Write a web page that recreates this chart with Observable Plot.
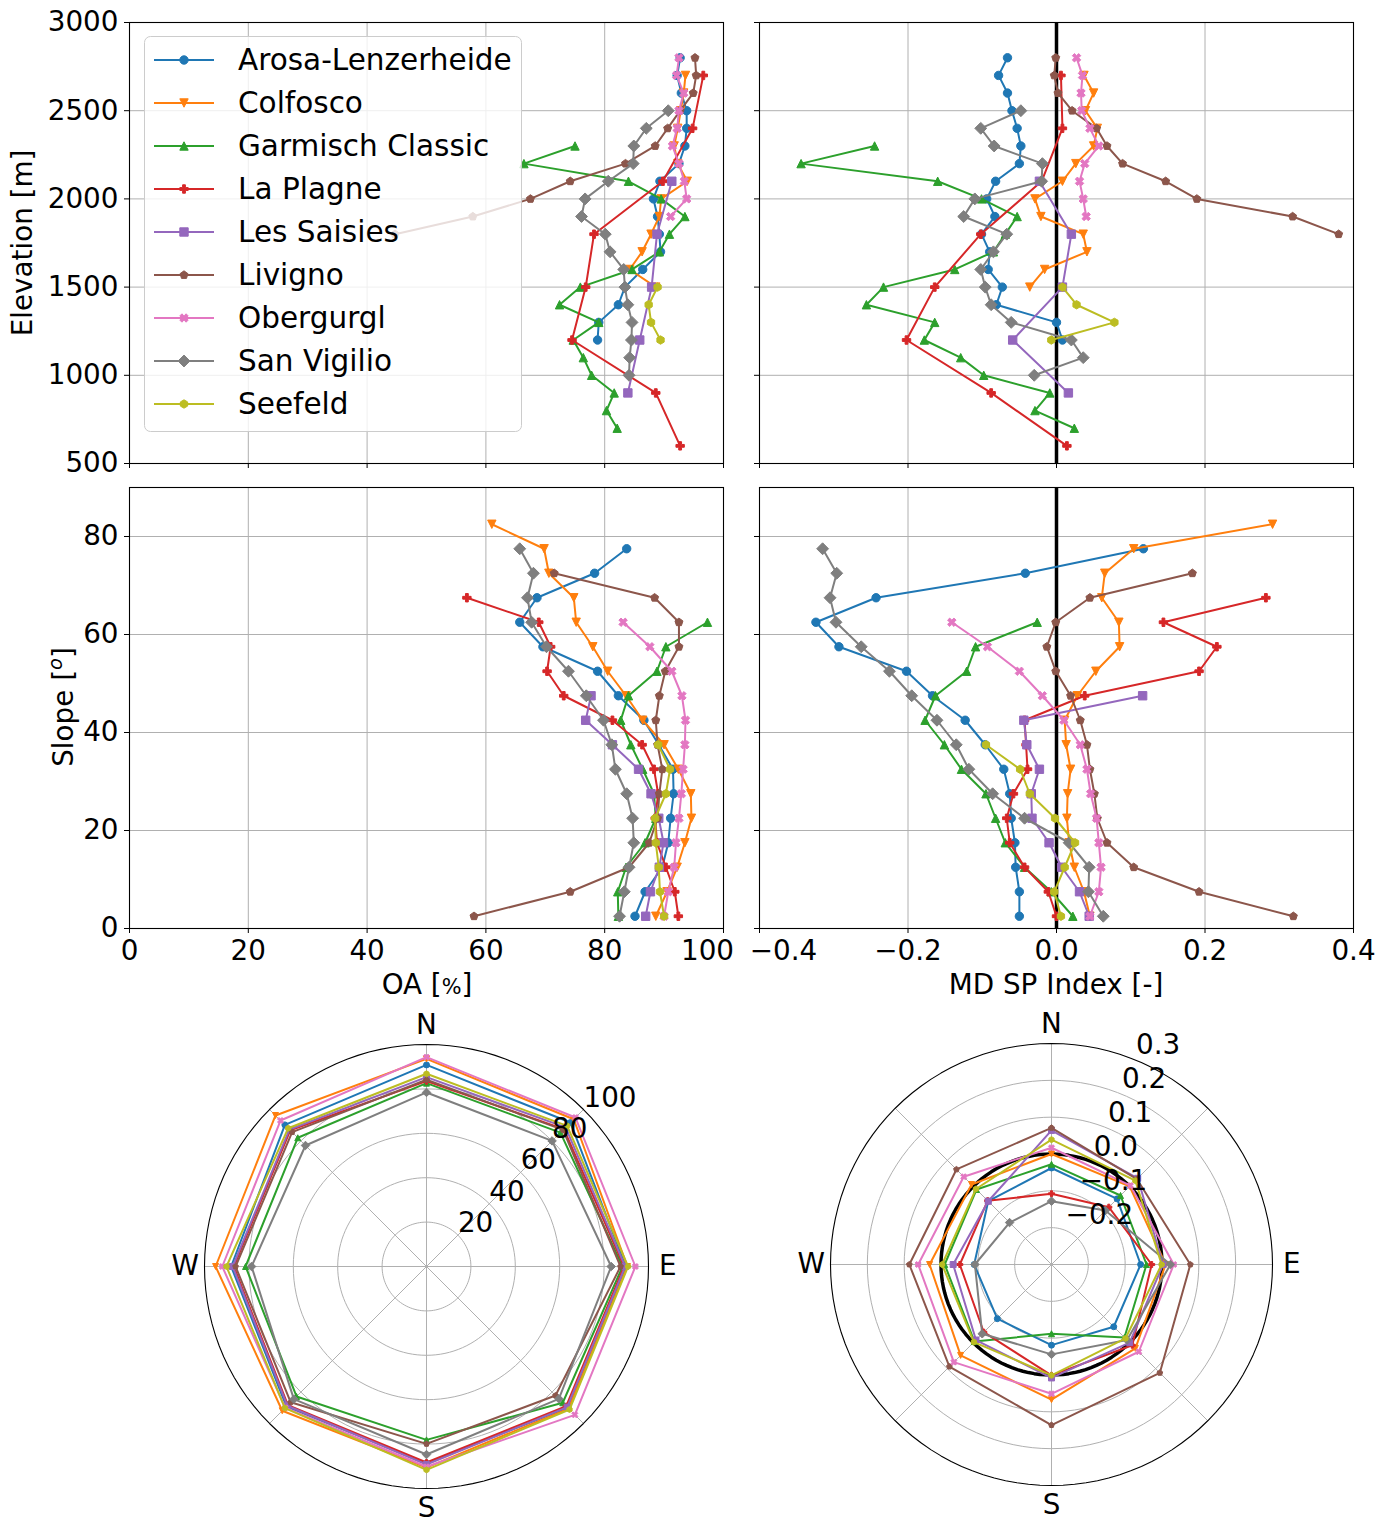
<!DOCTYPE html>
<html>
<head>
<meta charset="utf-8">
<script src="https://cdn.jsdelivr.net/npm/d3@7"></script>
<script src="https://cdn.jsdelivr.net/npm/@observablehq/plot@0.6"></script>
<style>
  body { margin: 0; background: #fff; overflow: hidden; font-family: "DejaVu Sans", sans-serif; }
  #fig { position: relative; width: 1388px; height: 1528px; }
  .ttl { position: absolute; font-size: 27.8px; line-height: 1; white-space: nowrap; color: #000; transform: translate(-50%, -50%); }
  .rot { transform: translate(-50%, -50%) rotate(-90deg); }
</style>
</head>
<body>
<div id="fig"></div>
<script>
// ---- data ----
const sites = ["Arosa-Lenzerheide", "Colfosco", "Garmisch Classic", "La Plagne", "Les Saisies",
               "Livigno", "Obergurgl", "San Vigilio", "Seefeld"];

// elevation bins sampled by each site [m]
const elevLevels = [
  [2800, 2700, 2600, 2500, 2400, 2300, 2200, 2100, 2000, 1900, 1800, 1700, 1600, 1500, 1400, 1300, 1200],
  [2700, 2600, 2500, 2400, 2300, 2200, 2100, 2000, 1900, 1800, 1700, 1600, 1500],
  [2300, 2200, 2100, 2000, 1900, 1800, 1700, 1600, 1500, 1400, 1300, 1200, 1100, 1000, 900, 800, 700],
  [2700, 2400, 2100, 1800, 1500, 1200, 900, 600],
  [2100, 1800, 1500, 1200, 900],
  [2800, 2700, 2600, 2500, 2400, 2300, 2200, 2100, 2000, 1900, 1800],
  [2800, 2700, 2600, 2500, 2400, 2300, 2200, 2100, 2000, 1900],
  [2500, 2400, 2300, 2200, 2100, 2000, 1900, 1800, 1700, 1600, 1500, 1400, 1300, 1200, 1100, 1000],
  [1500, 1400, 1300, 1200]
];
const oaByElev = [
  [92.7, 92.2, 92.9, 93.8, 93.8, 93.5, 92.5, 89.3, 88.2, 88.9, 89.2, 89.4, 86.4, 83.4, 82.3, 79.0, 78.8],
  [93.6, 93.3, 92.8, 92.3, 91.7, 92.3, 93.9, 89.5, 89.2, 87.8, 86.3, 84.2, 88.6],
  [75.0, 66.4, 84.0, 89.5, 93.5, 90.9, 89.2, 84.6, 75.9, 72.4, 79.0, 74.7, 76.4, 77.8, 81.6, 80.3, 82.1],
  [96.6, 94.8, 89.8, 78.2, 76.8, 74.5, 88.6, 92.7],
  [91.3, 88.8, 87.9, 85.9, 83.9],
  [95.2, 95.4, 94.9, 92.7, 90.6, 88.5, 83.5, 74.2, 67.5, 57.8, 44.7],
  [92.5, 92.1, 93.3, 92.5, 92.2, 91.4, 92.5, 93.4, 93.8, 91.1],
  [90.7, 87.0, 84.9, 84.8, 80.6, 76.7, 76.1, 80.1, 80.9, 83.2, 83.4, 83.9, 84.6, 84.5, 84.2, 84.1],
  [88.9, 87.4, 87.8, 89.4]
];
const mdByElev = [
  [-0.066, -0.078, -0.066, -0.060, -0.053, -0.048, -0.050, -0.082, -0.094, -0.083, -0.101, -0.090, -0.092, -0.073, -0.081, 0.000, 0.008],
  [0.037, 0.050, 0.039, 0.055, 0.050, 0.026, 0.008, -0.029, -0.021, 0.036, 0.041, -0.016, -0.036],
  [-0.245, -0.344, -0.160, -0.101, -0.053, -0.069, -0.085, -0.137, -0.233, -0.256, -0.164, -0.178, -0.129, -0.098, -0.009, -0.029, 0.024],
  [0.006, 0.008, -0.020, -0.102, -0.164, -0.202, -0.088, 0.014],
  [-0.023, 0.020, 0.008, -0.059, 0.016],
  [-0.001, -0.003, 0.002, 0.021, 0.054, 0.068, 0.089, 0.147, 0.189, 0.318, 0.380],
  [0.027, 0.035, 0.033, 0.034, 0.045, 0.057, 0.038, 0.031, 0.036, 0.040],
  [-0.048, -0.102, -0.084, -0.019, -0.020, -0.110, -0.125, -0.067, -0.085, -0.102, -0.096, -0.088, -0.061, 0.020, 0.036, -0.030],
  [0.008, 0.027, 0.078, -0.007]
];

// slope bins sampled by each site [deg]
const slopeLevels = [
  [77.5, 72.5, 67.5, 62.5, 57.5, 52.5, 47.5, 42.5, 37.5, 32.5, 27.5, 22.5, 17.5, 12.5, 7.5, 2.5],
  [82.5, 77.5, 72.5, 67.5, 62.5, 57.5, 52.5, 47.5, 42.5, 37.5, 32.5, 27.5, 22.5, 17.5, 12.5, 7.5, 2.5],
  [62.5, 57.5, 52.5, 47.5, 42.5, 37.5, 32.5, 27.5, 22.5, 17.5, 12.5, 7.5, 2.5],
  [67.5, 62.5, 57.5, 52.5, 47.5, 42.5, 37.5, 32.5, 27.5, 22.5, 17.5, 12.5, 7.5, 2.5],
  [47.5, 42.5, 37.5, 32.5, 27.5, 22.5, 17.5, 12.5, 7.5, 2.5],
  [72.5, 67.5, 62.5, 57.5, 52.5, 47.5, 42.5, 37.5, 32.5, 27.5, 22.5, 17.5, 12.5, 7.5, 2.5],
  [62.5, 57.5, 52.5, 47.5, 42.5, 37.5, 32.5, 27.5, 22.5, 17.5, 12.5, 7.5, 2.5],
  [77.5, 72.5, 67.5, 62.5, 57.5, 52.5, 47.5, 42.5, 37.5, 32.5, 27.5, 22.5, 17.5, 12.5, 7.5, 2.5],
  [37.5, 32.5, 27.5, 22.5, 17.5, 12.5, 7.5, 2.5]
];
const oaBySlope = [
  [83.7, 78.3, 68.6, 65.7, 69.6, 78.8, 82.3, 86.6, 89.1, 91.5, 91.6, 91.1, 90.7, 89.7, 86.8, 85.1],
  [61.0, 69.8, 70.6, 74.8, 75.2, 78.0, 80.5, 83.6, 86.4, 90.0, 92.4, 94.5, 94.6, 93.5, 92.2, 90.5, 88.6],
  [97.3, 90.3, 88.8, 84.0, 82.7, 84.4, 86.4, 88.3, 88.6, 86.8, 83.6, 82.2, 82.3],
  [56.8, 68.9, 70.9, 70.3, 73.1, 81.3, 86.3, 88.3, 89.0, 88.5, 88.8, 90.3, 91.8, 92.4],
  [77.7, 76.8, 81.3, 85.7, 87.8, 89.1, 89.9, 89.2, 87.7, 86.9],
  [71.5, 88.4, 92.5, 92.5, 90.2, 89.2, 88.6, 88.9, 89.7, 89.2, 88.9, 87.5, 84.1, 74.2, 58.0],
  [83.1, 87.6, 91.3, 93.0, 93.6, 93.5, 93.2, 92.9, 92.5, 92.0, 91.7, 90.7, 90.0],
  [65.7, 68.0, 67.0, 67.7, 70.2, 73.9, 76.9, 79.8, 81.2, 81.8, 83.7, 84.7, 84.9, 84.1, 83.3, 82.5],
  [89.0, 91.0, 90.3, 88.5, 88.6, 89.1, 89.3, 90.0]
];
const mdBySlope = [
  [0.117, -0.042, -0.243, -0.324, -0.293, -0.202, -0.167, -0.123, -0.096, -0.071, -0.063, -0.061, -0.056, -0.055, -0.050, -0.050],
  [0.291, 0.104, 0.065, 0.061, 0.084, 0.085, 0.053, 0.028, 0.011, 0.013, 0.019, 0.015, 0.014, 0.017, 0.024, 0.037, 0.045],
  [-0.026, -0.109, -0.121, -0.163, -0.177, -0.151, -0.128, -0.095, -0.082, -0.069, -0.043, -0.007, 0.022],
  [0.282, 0.144, 0.216, 0.192, 0.038, -0.043, -0.041, -0.039, -0.058, -0.067, -0.063, -0.043, -0.011, 0.000],
  [0.116, -0.044, -0.040, -0.023, -0.034, -0.033, -0.010, 0.007, 0.031, 0.044],
  [0.183, 0.045, -0.001, -0.013, -0.001, 0.019, 0.032, 0.041, 0.045, 0.051, 0.055, 0.068, 0.104, 0.192, 0.319],
  [-0.141, -0.093, -0.050, -0.019, 0.010, 0.032, 0.041, 0.046, 0.054, 0.057, 0.060, 0.057, 0.045],
  [-0.315, -0.296, -0.305, -0.297, -0.263, -0.225, -0.195, -0.161, -0.135, -0.118, -0.086, -0.043, 0.017, 0.044, 0.043, 0.063],
  [-0.095, -0.049, -0.036, -0.002, 0.025, 0.011, -0.003, 0.006]
];

// aspect: N, NE, E, SE, S, SW, W, NW
const aspectDeg = [0, 45, 90, 135, 180, 225, 270, 315];
const oaByAspect = [
  [90.8, 91.7, 89.8, 90.0, 88.6, 89.2, 88.0, 90.2],
  [93.5, 93.8, 90.5, 90.5, 90.6, 91.9, 95.0, 96.2],
  [82.6, 85.3, 88.3, 86.8, 78.1, 82.8, 81.5, 82.0],
  [83.5, 87.5, 89.0, 89.0, 88.3, 88.3, 86.8, 86.8],
  [85.3, 88.6, 89.5, 89.6, 89.2, 88.7, 87.3, 87.3],
  [84.1, 87.0, 87.4, 82.2, 79.9, 86.5, 86.0, 85.6],
  [94.3, 94.9, 94.1, 94.5, 90.2, 90.0, 92.0, 93.0],
  [78.4, 80.0, 83.2, 84.3, 84.7, 84.5, 78.8, 77.1],
  [86.8, 89.6, 90.8, 91.1, 91.6, 90.2, 90.1, 88.1]
];
const mdByAspect = [
  [-0.038, -0.048, -0.058, -0.061, -0.081, -0.092, -0.090, -0.057],
  [0.000, 0.000, 0.010, 0.022, 0.067, 0.049, 0.031, 0.007],
  [-0.028, -0.035, -0.042, -0.020, -0.112, -0.004, -0.010, -0.012],
  [-0.108, -0.080, -0.028, 0.010, 0.001, -0.040, -0.051, -0.055],
  [0.064, 0.031, 0.003, 0.000, 0.008, -0.010, -0.033, -0.057],
  [0.071, 0.028, 0.077, 0.116, 0.136, 0.092, 0.086, 0.065],
  [0.017, 0.003, 0.032, 0.035, 0.051, 0.075, 0.062, 0.037],
  [-0.128, -0.093, 0.023, -0.010, -0.056, -0.034, -0.092, -0.139],
  [0.039, 0.022, -0.001, -0.016, 0.001, -0.002, -0.003, -0.010]
];

const elevTicks = [500, 1000, 1500, 2000, 2500, 3000];
const slopeTicks = [0, 20, 40, 60, 80];
const oaTicks = [0, 20, 40, 60, 80, 100];
const mdTicks = [-0.4, -0.2, 0.0, 0.2, 0.4];

// ---- styles ----
const colors = ["#1f77b4", "#ff7f0e", "#2ca02c", "#d62728", "#9467bd", "#8c564b", "#e377c2", "#7f7f7f", "#bcbd22"];
const GRID = "#b0b0b0";
const FONT = {fontFamily: "DejaVu Sans", fontSize: "27.8px", color: "black", overflow: "visible", background: "transparent"};

// matplotlib-like markers (unit = half marker size)
function polygon(pts) {
  return {draw(ctx, size) {
    const s = Math.sqrt(size / Math.PI);
    pts.forEach(([x, y], i) => i ? ctx.lineTo(x * s, y * s) : ctx.moveTo(x * s, y * s));
    ctx.closePath();
  }};
}
function regular(n) {
  const pts = [];
  for (let k = 0; k < n; k++) { const a = 2 * Math.PI * k / n; pts.push([Math.sin(a), -Math.cos(a)]); }
  return polygon(pts);
}
const circle = {draw(ctx, size) { const r = Math.sqrt(size / Math.PI); ctx.moveTo(r, 0); ctx.arc(0, 0, r, 0, 2 * Math.PI); ctx.closePath(); }};
const t = 1 / 3;
const markers = [
  circle,
  polygon([[0, 1], [-1, -1], [1, -1]]),
  polygon([[0, -1], [-1, 1], [1, 1]]),
  polygon([[-t, -1], [t, -1], [t, -t], [1, -t], [1, t], [t, t], [t, 1], [-t, 1], [-t, t], [-1, t], [-1, -t], [-t, -t]]),
  polygon([[-1, -1], [1, -1], [1, 1], [-1, 1]]),
  regular(5),
  polygon([[-0.5, -1], [0, -0.5], [0.5, -1], [1, -0.5], [0.5, 0], [1, 0.5], [0.5, 1], [0, 0.5], [-0.5, 1], [-1, 0.5], [-0.5, 0], [-1, -0.5]]),
  polygon([[0, -1.414], [1.414, 0], [0, 1.414], [-1.414, 0]]),
  regular(6)
];

const fig = document.getElementById("fig");
function place(el, left, top) {
  el.style.position = "absolute";
  el.style.left = left + "px";
  el.style.top = top + "px";
  fig.appendChild(el);
}

// ---- cartesian panels ----
function linePanel({levels, values, xDomain, xTicks, xFmt, edge, yDomain, yTicks, yFmt, zero, left, top, width, height, mt, mr, mb, ml}) {
  const marks = [
    Plot.gridX({ticks: xTicks, stroke: GRID, strokeOpacity: 1, strokeWidth: 1}),
    Plot.gridY({ticks: yTicks, stroke: GRID, strokeOpacity: 1, strokeWidth: 1})
  ];
  if (zero) marks.push(Plot.ruleX([0], {stroke: "black", strokeWidth: 3.5}));
  sites.forEach((s, i) => {
    const pts = levels[i].map((lv, j) => ({lv, v: values[i][j]}));
    marks.push(Plot.line(pts, {x: "v", y: "lv", stroke: colors[i], strokeWidth: 2}));
    marks.push(Plot.dot(pts, {x: "v", y: "lv", symbol: markers[i], r: 4.2, fill: colors[i], stroke: colors[i], strokeWidth: 1}));
  });
  marks.push(Plot.frame({stroke: "black", strokeWidth: 1.1}));
  marks.push(Plot.axisX({ticks: xTicks, tickSize: 5, tickFormat: () => "", label: null}));
  marks.push(Plot.axisY({ticks: yTicks, tickSize: 5, tickPadding: 6, tickFormat: yFmt, label: null}));
  if (xFmt) {
    // tick labels; the one at the shared panel edge is nudged away from its neighbour
    const lab = {frameAnchor: "bottom", lineAnchor: "top", dy: 12, text: xFmt};
    marks.push(Plot.text(xTicks.filter(d => d !== edge.value), {...lab, x: d => d}));
    marks.push(Plot.text([edge.value], {...lab, x: d => d, dx: edge.dx}));
  }
  const p = Plot.plot({
    width, height, marginTop: mt, marginRight: mr, marginBottom: mb, marginLeft: ml,
    x: {domain: xDomain}, y: {domain: yDomain},
    style: FONT, marks
  });
  place(p, left, top);
}

const none = () => "";
const fmtMD = d3.format(".1f");
linePanel({levels: elevLevels, values: oaByElev, xDomain: [0, 100], xTicks: oaTicks, xFmt: null,
  yDomain: [500, 3000], yTicks: elevTicks, yFmt: d => String(d), zero: false,
  left: 0, top: 0, width: 735, height: 475, mt: 22, mr: 12, mb: 12, ml: 129});
linePanel({levels: elevLevels, values: mdByElev, xDomain: [-0.4, 0.4], xTicks: mdTicks, xFmt: null,
  yDomain: [500, 3000], yTicks: elevTicks, yFmt: none, zero: true,
  left: 745, top: 0, width: 620, height: 475, mt: 22, mr: 12, mb: 12, ml: 14});
linePanel({levels: slopeLevels, values: oaBySlope, xDomain: [0, 100], xTicks: oaTicks, xFmt: d => String(d),
  edge: {value: 100, dx: -16},
  yDomain: [0, 90], yTicks: slopeTicks, yFmt: d => String(d), zero: false,
  left: 0, top: 475, width: 755, height: 500, mt: 12, mr: 32, mb: 47, ml: 129});
linePanel({levels: slopeLevels, values: mdBySlope, xDomain: [-0.4, 0.4], xTicks: mdTicks, xFmt: fmtMD,
  edge: {value: -0.4, dx: 24},
  yDomain: [0, 90], yTicks: slopeTicks, yFmt: none, zero: true,
  left: 745, top: 475, width: 640, height: 500, mt: 12, mr: 32, mb: 47, ml: 14});

// ---- polar panels ----
function polarPanel({values, rMin, rMax, rings, labels, labelFmt, labelDeg, labelDy, cx, cy, R, zeroRing}) {
  const m = 48, span = rMax - rMin;
  const X = (r, deg) => (r - rMin) * Math.sin(deg * Math.PI / 180);
  const Y = (r, deg) => (r - rMin) * Math.cos(deg * Math.PI / 180);
  const ring = (r) => d3.range(0, 361, 3).map(a => ({a, r}));
  const marks = [
    Plot.line(rings.flatMap(ring), {x: d => X(d.r, d.a), y: d => Y(d.r, d.a), z: "r", stroke: GRID, strokeWidth: 1}),
    Plot.link(aspectDeg, {x1: 0, y1: 0, x2: d => X(rMax, d), y2: d => Y(rMax, d), stroke: GRID, strokeWidth: 1}),
    Plot.line(ring(rMax), {x: d => X(d.r, d.a), y: d => Y(d.r, d.a), stroke: "black", strokeWidth: 1.1})
  ];
  if (zeroRing) marks.push(Plot.line(ring(0), {x: d => X(d.r, d.a), y: d => Y(d.r, d.a), stroke: "black", strokeWidth: 3.5}));
  sites.forEach((s, i) => {
    const pts = aspectDeg.map((deg, j) => ({deg, v: values[i][j]}));
    const o = {x: d => X(d.v, d.deg), y: d => Y(d.v, d.deg)};
    marks.push(Plot.line(pts, {...o, stroke: colors[i], strokeWidth: 2, curve: "linear-closed"}));
    marks.push(Plot.dot(pts, {...o, symbol: markers[i], r: 3, fill: colors[i], stroke: colors[i], strokeWidth: 1}));
  });
  const compass = ["N", "E", "S", "W"];
  marks.push(Plot.text(compass, {x: (d, i) => X(rMin + span * 1.087, i * 90), y: (d, i) => Y(rMin + span * 1.087, i * 90),
    text: d => d, textAnchor: "middle", lineAnchor: "middle"}));
  marks.push(Plot.text(labels, {x: d => X(d, labelDeg), y: d => Y(d, labelDeg), text: labelFmt,
    textAnchor: "start", lineAnchor: "bottom", dy: labelDy}));
  const p = Plot.plot({
    width: 2 * (R + m), height: 2 * (R + m), margin: m,
    x: {domain: [-span, span], axis: null}, y: {domain: [-span, span], axis: null},
    style: FONT, marks
  });
  place(p, cx - R - m, cy - R - m);
}

polarPanel({values: oaByAspect, rMin: 0, rMax: 100, rings: [20, 40, 60, 80], labels: [20, 40, 60, 80, 100],
  labelFmt: d => String(d), labelDeg: 45, labelDy: -3, cx: 426, cy: 1266, R: 222, zeroRing: false});
polarPanel({values: mdByAspect, rMin: -0.3, rMax: 0.3, rings: [-0.2, -0.1, 0, 0.1, 0.2], labels: [-0.2, -0.1, 0, 0.1, 0.2, 0.3],
  labelFmt: d => fmtMD(d), labelDeg: 22.5, labelDy: -6, cx: 1051, cy: 1264, R: 221, zeroRing: true});

// ---- legend ----
const leg = d3.create("svg").attr("width", 560).attr("height", 440)
  .style("font-family", "DejaVu Sans").style("font-size", "29.5px");
leg.append("rect").attr("x", 144.5).attr("y", 36.5).attr("width", 377).attr("height", 395).attr("rx", 6)
  .attr("fill", "white").attr("fill-opacity", 0.8).attr("stroke", "#cccccc").attr("stroke-width", 1);
sites.forEach((s, i) => {
  const y = 60 + 43 * i;
  leg.append("line").attr("x1", 154).attr("x2", 214).attr("y1", y).attr("y2", y)
    .attr("stroke", colors[i]).attr("stroke-width", 2);
  leg.append("path").attr("transform", `translate(184,${y})`)
    .attr("d", d3.symbol(markers[i], Math.PI * 4.2 * 4.2)())
    .attr("fill", colors[i]).attr("stroke", colors[i]).attr("stroke-width", 1);
  leg.append("text").attr("x", 238).attr("y", y).attr("dy", "0.35em").text(s);
});
place(leg.node(), 0, 0);

// ---- axis titles ----
function title(html, x, y, rot) {
  const d = document.createElement("div");
  d.className = "ttl" + (rot ? " rot" : "");
  d.innerHTML = html;
  d.style.left = x + "px";
  d.style.top = y + "px";
  fig.appendChild(d);
}
title("Elevation [m]", 23, 243, true);
title('Slope [<sup style="font-size:0.7em;font-style:italic">o</sup>]', 62, 707, true);
title('OA [<span style="font-size:0.75em">%</span>]', 427, 985, false);
title("MD SP Index [-]", 1056, 985, false);
</script>
</body>
</html>
